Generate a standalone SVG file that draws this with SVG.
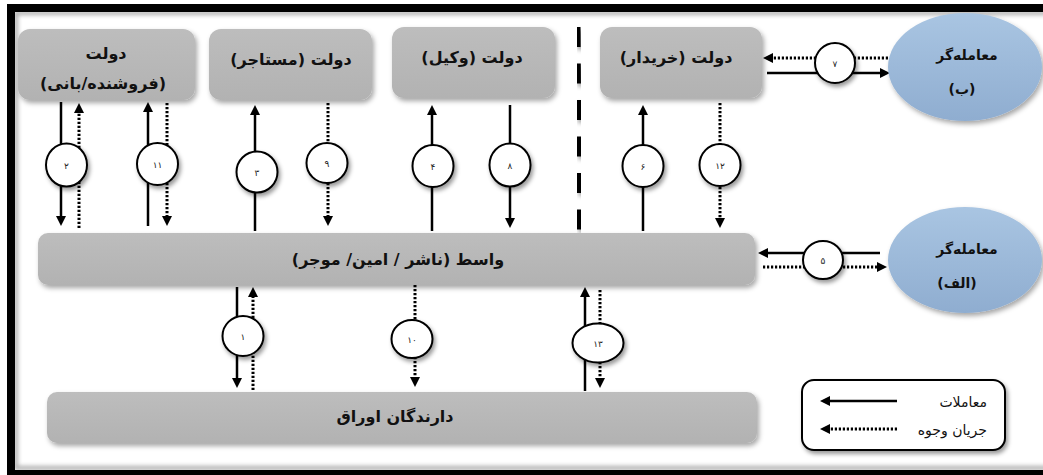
<svg xmlns="http://www.w3.org/2000/svg" width="1043" height="475" viewBox="0 0 1043 475">
<defs>
<style>
.node{fill:url(#gg);filter:url(#sh)}
.ell{fill:url(#bg);filter:url(#sh)}
.t{font-family:"DejaVu Sans",sans-serif;font-weight:bold;font-size:16px;fill:#111;text-anchor:middle;direction:rtl}
.te{font-family:"DejaVu Sans",sans-serif;font-weight:bold;font-size:14px;fill:#111;text-anchor:middle;direction:rtl}
.lt{font-family:"DejaVu Sans",sans-serif;font-size:14px;fill:#111;text-anchor:start;direction:rtl}
.num{font-family:"DejaVu Sans",sans-serif;font-size:9px;fill:#222;text-anchor:middle;direction:rtl}
.s{stroke:#000;stroke-width:2.5;fill:none;marker-end:url(#ah)}
.d{stroke:#000;stroke-width:3;stroke-dasharray:2.2 1.8;fill:none;marker-end:url(#ah)}
.c{fill:#fff;stroke:#000;stroke-width:2;filter:url(#sh2)}
</style>
<linearGradient id="gg" x1="0" y1="0" x2="0" y2="1">
<stop offset="0" stop-color="#bdbdbd"/><stop offset="1" stop-color="#b2b2b2"/>
</linearGradient>
<linearGradient id="bg" x1="0" y1="0" x2="0" y2="1">
<stop offset="0" stop-color="#a9c5e2"/><stop offset="1" stop-color="#8fadd0"/>
</linearGradient>
<filter id="sh" x="-10%" y="-20%" width="130%" height="150%">
<feDropShadow dx="2" dy="3" stdDeviation="2.5" flood-color="#000" flood-opacity="0.35"/>
</filter>
<filter id="sh2" x="-30%" y="-30%" width="170%" height="170%">
<feDropShadow dx="2" dy="3" stdDeviation="2" flood-color="#000" flood-opacity="0.4"/>
</filter>
<filter id="bl"><feGaussianBlur stdDeviation="2"/></filter>
<marker id="ah" viewBox="0 0 10 10" refX="2" refY="5" markerWidth="10" markerHeight="10" markerUnits="userSpaceOnUse" orient="auto">
<path d="M0,0 L10,5 L0,10 z" fill="#000"/>
</marker>
</defs>
<rect x="0" y="0" width="1043" height="475" fill="#fff"/>
<rect x="16" y="13" width="1060" height="455" fill="none" stroke="#aaa" stroke-width="4" filter="url(#bl)"/>
<rect x="11" y="8" width="1060" height="466" fill="none" stroke="#000" stroke-width="8"/>
<line x1="578" y1="27" x2="579.5" y2="230" stroke="#000" stroke-width="5" stroke-dasharray="20 16.5" filter="url(#sh2)"/>

<g id="connectors">
<line class="s" x1="61" y1="102" x2="61" y2="218"/>
<line class="d" x1="79" y1="228" x2="79" y2="111"/>
<line class="s" x1="148" y1="226" x2="148" y2="110"/>
<line class="d" x1="167" y1="103" x2="167" y2="218"/>
<line class="s" x1="255" y1="231" x2="255" y2="113"/>
<line class="d" x1="328" y1="103" x2="328" y2="218"/>
<line class="s" x1="432" y1="231" x2="432" y2="113"/>
<line class="s" x1="510" y1="105" x2="510" y2="220"/>
<line class="s" x1="643" y1="231" x2="643" y2="113"/>
<line class="d" x1="720" y1="103" x2="720" y2="220"/>
<line class="d" x1="888" y1="58" x2="771" y2="58"/>
<line class="s" x1="767" y1="73" x2="882" y2="73"/>
<line class="s" x1="880" y1="253" x2="766" y2="253"/>
<line class="d" x1="763" y1="267" x2="879" y2="267"/>
<line class="s" x1="237" y1="287" x2="237" y2="380"/>
<line class="d" x1="253" y1="390" x2="253" y2="295"/>
<line class="d" x1="415" y1="285" x2="415" y2="379"/>
<line class="s" x1="585" y1="391" x2="585" y2="295"/>
<line class="d" x1="600" y1="290" x2="600" y2="380"/>
<ellipse class="c" cx="66.5" cy="165" rx="20.5" ry="21.5"/><text class="num" x="66.5" y="169">۲</text>
<ellipse class="c" cx="157.5" cy="164" rx="20.5" ry="21"/><text class="num" x="157.5" y="168">۱۱</text>
<ellipse class="c" cx="257" cy="172" rx="20.5" ry="20.5"/><text class="num" x="257" y="176">۳</text>
<ellipse class="c" cx="327" cy="163" rx="20.5" ry="20"/><text class="num" x="327" y="167">۹</text>
<ellipse class="c" cx="433" cy="166" rx="20.5" ry="21"/><text class="num" x="433" y="170">۴</text>
<ellipse class="c" cx="510" cy="165" rx="20.5" ry="21.5"/><text class="num" x="510" y="169">۸</text>
<ellipse class="c" cx="643" cy="166" rx="20.5" ry="21"/><text class="num" x="643" y="170">۶</text>
<ellipse class="c" cx="720" cy="165" rx="20.5" ry="21"/><text class="num" x="720" y="169">۱۲</text>
<ellipse class="c" cx="835" cy="63" rx="20" ry="20"/><text class="num" x="835" y="67">۷</text>
<ellipse class="c" cx="823" cy="260" rx="20" ry="19"/><text class="num" x="823" y="264">۵</text>
<ellipse class="c" cx="243" cy="336" rx="20.5" ry="20"/><text class="num" x="243" y="340">۱</text>
<ellipse class="c" cx="412" cy="339" rx="20.5" ry="19"/><text class="num" x="412" y="343">۱۰</text>
<ellipse class="c" cx="598" cy="343" rx="25.5" ry="19.5"/><text class="num" x="598" y="347">۱۳</text>
</g>

<g id="n-seller">
<rect class="node" x="18" y="29" width="177" height="71" rx="12"/>
<text class="t" x="106" y="59">دولت</text>
<text class="t" x="103" y="89">(فروشنده/بانی)</text>
</g>
<g id="n-lessee">
<rect class="node" x="209" y="29" width="163" height="71" rx="12"/>
<text class="t" x="291" y="65">دولت (مستاجر)</text>
</g>
<g id="n-agent">
<rect class="node" x="392" y="27" width="163" height="71" rx="12"/>
<text class="t" x="472" y="63">دولت (وکیل)</text>
</g>
<g id="n-buyer">
<rect class="node" x="600" y="27" width="162" height="71" rx="12"/>
<text class="t" x="676" y="63">دولت (خریدار)</text>
</g>
<g id="n-traderB">
<ellipse class="ell" cx="965" cy="67" rx="77" ry="54"/>
<text class="te" x="967" y="60">معامله‌گر</text>
<text class="te" x="962" y="94">(ب)</text>
</g>
<g id="n-traderA">
<ellipse class="ell" cx="965" cy="260" rx="77" ry="53"/>
<text class="te" x="967" y="254">معامله‌گر</text>
<text class="te" x="957" y="288">(الف)</text>
</g>
<g id="n-intermediary">
<rect class="node" x="38" y="233" width="717" height="52" rx="10"/>
<text class="t" x="398" y="265">واسط (ناشر / امین/ موجر)</text>
</g>
<g id="n-holders">
<rect class="node" x="47" y="392" width="710" height="51" rx="10"/>
<text class="t" x="395" y="422">دارندگان اوراق</text>
</g>
<g id="legend">
<rect x="802" y="380" width="203" height="70" rx="12" fill="#fff" stroke="#000" stroke-width="2" filter="url(#sh2)"/>
<line class="s" x1="897" y1="401" x2="828" y2="401"/>
<line class="d" x1="897" y1="429" x2="828" y2="429"/>
<text class="lt" x="987" y="407">معاملات</text>
<text class="lt" x="987" y="435">جریان وجوه</text>
</g>
</svg>
